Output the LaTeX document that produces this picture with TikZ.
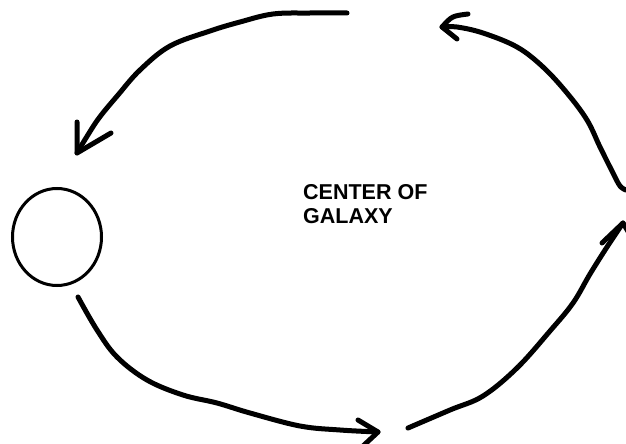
\documentclass[tikz,border=0pt]{standalone}
\usepackage{fontspec}
\setmainfont{Liberation Sans}
\usetikzlibrary{shapes.geometric}
\begin{document}
\begin{tikzpicture}[x=1pt,y=-1pt,
  stroke/.style={line width=5pt,line cap=round,line join=round},
  barb/.style={line width=5pt,line cap=round,line join=round},
  starbody/.style={draw,ellipse,line width=3pt,minimum width=89pt,minimum height=97pt,inner sep=0pt},
  label/.style={align=left,inner sep=0pt,anchor=north west,font=\fontsize{21.5pt}{24pt}\selectfont\bfseries}]
\useasboundingbox[fill=white] (0,0) rectangle (626,444);
% star
\node[starbody] (star) at (57,237) {};
% center label
\node[label] (center) at (303,184) {CENTER OF\\GALAXY};
% named ends
\coordinate (a1s) at (347,13);
\coordinate (a1t) at (77,153);
\coordinate (a2s) at (78,297);
\coordinate (a2t) at (378,432);
\coordinate (a3s) at (408,428);
\coordinate (a3t) at (623,223);
\coordinate (a4s) at (626,190);
\coordinate (a4t) at (442,27);
% top-left arc
\draw[stroke] plot[smooth,tension=0.6] coordinates {(a1s) (310,13) (273,14) (240,22) (210,31) (170,46) (140,70) (118,95) (99,118) (86,138) (a1t)};
\draw[barb] (77,122) -- (a1t) -- (111,133);
% bottom-left arc
\draw[stroke] plot[smooth,tension=0.6] coordinates {(a2s) (97,330) (117,357) (147,380) (183,395) (217,403) (250,413) (300,426) (340,430) (a2t)};
\draw[barb] (358,420) -- (a2t) -- (363,446);
% bottom-right arc
\draw[stroke] plot[smooth,tension=0.6] coordinates {(a3s) (450,410) (483,396) (517,368) (550,331) (573,303) (590,274) (607,247) (a3t)};
\draw[barb] (602,243) -- (a3t) -- (632,238);
% top-right arc
\draw[stroke] plot[smooth,tension=0.6] coordinates {(a4s) (620,186) (613,173) (600,147) (587,120) (567,93) (543,67) (517,47) (483,33) (457,27) (a4t)};
\draw[barb] (468,14) .. controls (452,16) .. (a4t) -- (457,39);
\end{tikzpicture}
\end{document}
